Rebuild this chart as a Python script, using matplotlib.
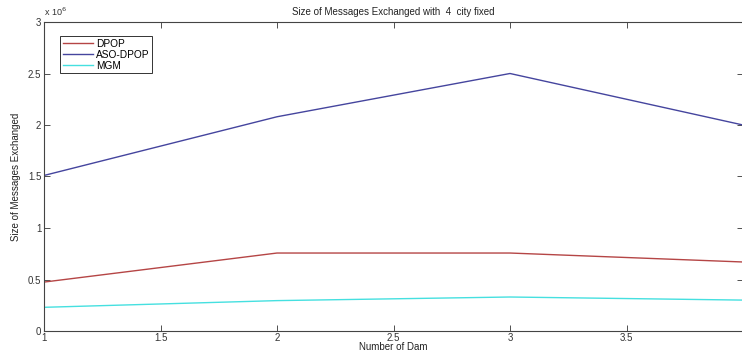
import matplotlib
matplotlib.use("Agg")
import matplotlib.pyplot as plt
from matplotlib.ticker import FuncFormatter

plt.rcParams["font.family"] = ["Liberation Sans", "DejaVu Sans"]

dams = [1, 2, 3, 4]
dpop = [0.475e6, 0.757e6, 0.757e6, 0.67e6]
aso_dpop = [1.51e6, 2.08e6, 2.5e6, 2.0e6]
mgm = [0.23e6, 0.295e6, 0.33e6, 0.30e6]

x_ticks = [1, 1.5, 2, 2.5, 3, 3.5, 4]
y_ticks = [0, 0.5e6, 1e6, 1.5e6, 2e6, 2.5e6, 3e6]

fig = plt.figure(figsize=(7.42, 3.53), dpi=100)
ax = fig.add_axes([44 / 742, 22 / 353, 699 / 742, 309 / 353])

ax.plot(dams, dpop, color="#b54545", lw=1.0, label="DPOP")
ax.plot(dams, aso_dpop, color="#45459e", lw=1.0, label="ASO-DPOP")
ax.plot(dams, mgm, color="#45e0e0", lw=1.0, label="MGM")

ax.set_xlim(1, 4)
ax.set_ylim(0, 3e6)
ax.set_xticks(x_ticks)
ax.set_xticklabels([f"{t:g}" for t in x_ticks[:-1]] + [""])
ax.set_yticks(y_ticks)
ax.yaxis.set_major_formatter(FuncFormatter(lambda v, p: f"{v / 1e6:g}"))

ax.tick_params(direction="in", length=4, width=0.6, labelsize=7,
               colors="#333333", top=True, right=True, pad=2)
ax.tick_params(axis="x", pad=1.5)
for s in ax.spines.values():
    s.set_linewidth(0.8)
    s.set_color("#444444")

ax.text(0.0, 1.012, r"x 10$^6$", transform=ax.transAxes, fontsize=6.5,
        ha="left", va="bottom", color="#333333")
ax.set_title("Size of Messages Exchanged with  4  city fixed", fontsize=7,
             pad=5, color="#222222")
ax.set_xlabel("Number of Dam", fontsize=7, labelpad=-0.5, color="#222222")
ax.set_ylabel("Size of Messages Exchanged", fontsize=7, labelpad=5, color="#222222")

leg = ax.legend(loc="upper left", bbox_to_anchor=(0.016, 0.97), fontsize=7.3,
                handlelength=3.0, handletextpad=0.25, borderpad=0.25,
                labelspacing=0.1, fancybox=False, framealpha=1)
leg.get_frame().set_edgecolor("#333333")
leg.get_frame().set_linewidth(0.7)

fig.savefig("out.png", dpi=100)
